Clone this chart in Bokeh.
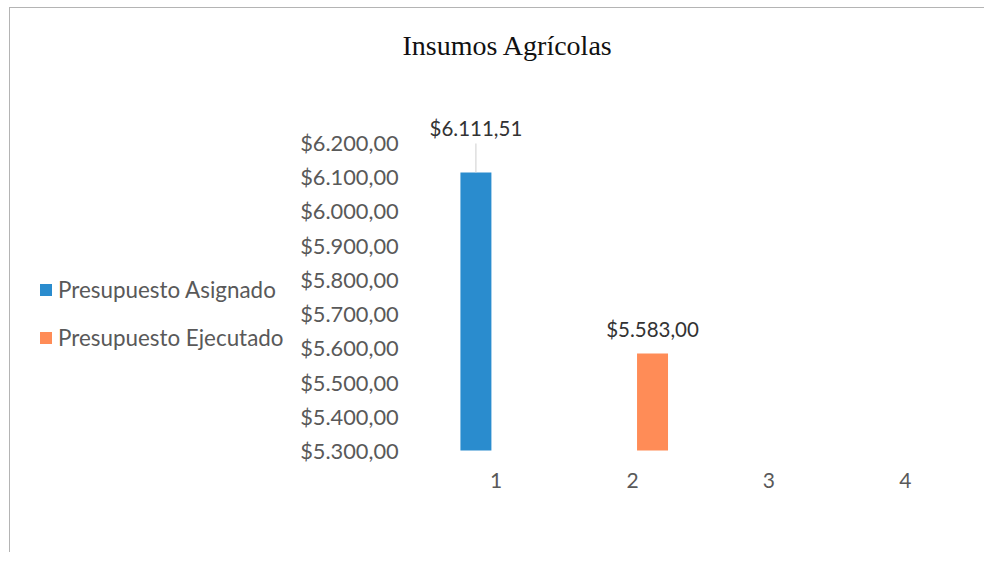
from bokeh.plotting import figure
from bokeh.models import Range1d, FixedTicker, ColumnDataSource, Legend, LegendItem, Title
from bokeh.transform import dodge
from bokeh.embed import file_html
from bokeh.resources import INLINE
from bokeh.core.properties import value

# ---- data ----
title_text = "Insumos Agrícolas"
categories = [1, 2, 3, 4]
category_labels = ["1", "2", "3", "4"]
series_names = ["Presupuesto Asignado", "Presupuesto Ejecutado"]
asignado_cat = [1]
asignado = [6111.51]
asignado_labels = ["$6.111,51"]
ejecutado_cat = [2]
ejecutado = [5583.00]
ejecutado_labels = ["$5.583,00"]
y_ticks = [5300, 5400, 5500, 5600, 5700, 5800, 5900, 6000, 6100, 6200]
y_tick_labels = ["$5.300,00", "$5.400,00", "$5.500,00", "$5.600,00", "$5.700,00",
                 "$5.800,00", "$5.900,00", "$6.000,00", "$6.100,00", "$6.200,00"]
axis_min = 5300

BLUE = "#2A8CCE"
ORANGE = "#FF8C57"
GRAY = "#595959"
FONT = "Lato"

# the frame spans the whole chart area; axes are placed inside it at fixed locations
p = figure(width=975, height=545,
           x_range=Range1d(-2.557, 4.506), y_range=Range1d(5130.7, 6322),
           output_backend="svg", toolbar_location=None,
           min_border_left=0, min_border_right=11,
           min_border_top=92, min_border_bottom=45)
p.styles = {"margin-left": "9px", "margin-top": "7px",
            "border-top": "1px solid #b4b4b4", "border-left": "1px solid #b4b4b4"}
p.outline_line_color = None
p.xgrid.grid_line_color = None
p.ygrid.grid_line_color = None

# title (spacer first = closest to the frame)
p.title = None
p.add_layout(Title(text=" ", text_font_size="10px", standoff=27), "above")
p.add_layout(Title(text=title_text, align="left", offset=392, standoff=0,
                   text_font="Liberation Serif", text_font_style="normal",
                   text_font_size="28px", text_color="#111111"), "above")

# axes
p.yaxis.fixed_location = 0.5
p.xaxis.fixed_location = axis_min
p.yaxis.ticker = FixedTicker(ticks=y_ticks)
p.yaxis.major_label_overrides = {t: l for t, l in zip(y_ticks, y_tick_labels)}
p.xaxis.ticker = FixedTicker(ticks=categories)
p.xaxis.major_label_overrides = {c: l for c, l in zip(categories, category_labels)}
for ax in (p.xaxis, p.yaxis):
    ax.axis_line_color = None
    ax.major_tick_line_color = None
    ax.minor_tick_line_color = None
    ax.major_tick_out = 0
    ax.major_tick_in = 0
    ax.minor_tick_out = 0
    ax.major_label_text_font = FONT
    ax.major_label_text_color = GRAY
p.yaxis.major_label_text_font_size = "21.8px"
p.xaxis.major_label_text_font_size = "21px"
p.yaxis.major_label_standoff = 29
p.xaxis.major_label_standoff = 22

# bars
src_a = ColumnDataSource(dict(x=asignado_cat, top=asignado, label=asignado_labels,
                              lead=[v + 85 for v in asignado]))
src_e = ColumnDataSource(dict(x=ejecutado_cat, top=ejecutado, label=ejecutado_labels))

off = 0.147
bw = 0.227
r_a = p.vbar(x=dodge("x", -off, range=p.x_range), top="top", bottom=axis_min, width=bw,
             fill_color=BLUE, line_color=None, source=src_a)
r_e = p.vbar(x=dodge("x", off, range=p.x_range), top="top", bottom=axis_min, width=bw,
             fill_color=ORANGE, line_color=None, source=src_e)

# leader line for first label
p.segment(x0=dodge("x", -off, range=p.x_range), y0="top",
          x1=dodge("x", -off, range=p.x_range), y1="lead",
          line_color="#cfcfcf", line_width=1, source=src_a)

# data labels
p.text(x=dodge("x", -off, range=p.x_range), y="top", text="label", source=src_a,
       y_offset=-45, text_align="center", text_baseline="middle",
       text_font=value(FONT), text_font_size="20.5px", text_color="#333333")
p.text(x=dodge("x", off, range=p.x_range), y="top", text="label", source=src_e,
       y_offset=-25, text_align="center", text_baseline="middle",
       text_font=value(FONT), text_font_size="20.5px", text_color="#333333")

legend = Legend(items=[LegendItem(label=series_names[0], renderers=[r_a]),
                       LegendItem(label=series_names[1], renderers=[r_e])],
                location=(28, 157), orientation="vertical",
                border_line_color=None, background_fill_alpha=0,
                padding=0, margin=0, spacing=21,
                glyph_width=15, glyph_height=15, label_height=27,
                label_standoff=5, label_text_font=FONT,
                label_text_font_size="22.4px", label_text_color=GRAY)
p.add_layout(legend)

open("out.html", "w").write(file_html(p, INLINE))
